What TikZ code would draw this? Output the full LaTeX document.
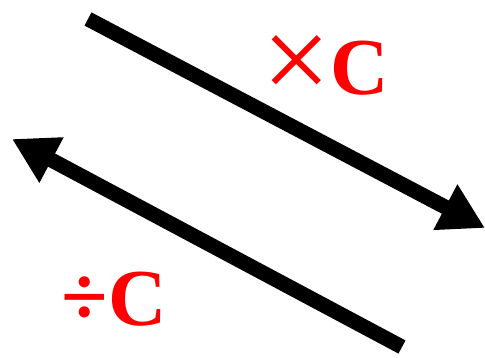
\documentclass[tikz,border=0pt]{standalone}
\usepackage{fontspec}
\usepackage{graphicx}
\setmainfont{Liberation Serif}
\usetikzlibrary{arrows.meta}
\tikzset{
  bigarrow/.style={line width=8.5pt,-{Triangle[length=25.5pt,width=27.5pt]}},
  oplabel/.style={text=red,font=\bfseries\fontsize{46}{46}\selectfont,inner sep=0pt}
}
\begin{document}
\begin{tikzpicture}[x=0.02cm,y=-0.02cm]
  \useasboundingbox (0,0) rectangle (485,358);
  
  \coordinate (mulstart) at (88,19);
  \coordinate (mulend) at (485,228);
  \coordinate (divstart) at (402,347);
  \coordinate (divend) at (12,139);
  
  \draw[bigarrow] (mulstart) -- (mulend);
  \draw[bigarrow] (divstart) -- (divend);
  
  \node[oplabel] (mul) at (326,68) {\raisebox{-0.08em}{\scalebox{1.5}{\mdseries ×}}C};
  \node[oplabel] (div) at (114,299) {\scalebox{1.05}{÷}C};
\end{tikzpicture}
\end{document}
